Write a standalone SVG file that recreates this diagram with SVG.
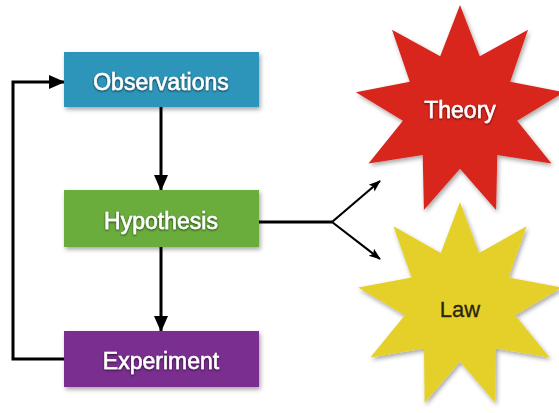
<svg xmlns="http://www.w3.org/2000/svg" width="559" height="413" viewBox="0 0 559 413">
<style>
.lbl{font-family:"Liberation Sans",Arial,sans-serif;font-size:23px;text-anchor:middle;fill:#fff;stroke:#fff;stroke-width:0.5;}
.dark{fill:#2a2410;stroke:#2a2410;stroke-width:0.3;font-size:22px;}
.ln{fill:none;stroke:#000;stroke-width:3;}
.thin{fill:none;stroke:#000;stroke-width:2.2;}
</style>
<defs>
<filter id="sh" x="-10%" y="-10%" width="130%" height="140%">
<feDropShadow dx="1.5" dy="2.5" stdDeviation="2" flood-color="#000" flood-opacity="0.35"/>
</filter>
<filter id="ts" x="-10%" y="-20%" width="120%" height="150%">
<feDropShadow dx="0" dy="1" stdDeviation="0.8" flood-color="#000" flood-opacity="0.7"/>
</filter>
<marker id="ah" markerUnits="userSpaceOnUse" markerWidth="16" markerHeight="16" viewBox="0 0 16 16" refX="15" refY="8" orient="auto">
<path d="M0,1 L16,8 L0,15 Z" fill="#000"/>
</marker>
<marker id="ahs" markerUnits="userSpaceOnUse" markerWidth="12" markerHeight="12" viewBox="0 0 12 12" refX="11" refY="6" orient="auto">
<path d="M0,1.5 L12,6 L0,10.5 L2.5,6 Z" fill="#000"/>
</marker>
</defs>
<rect width="559" height="413" fill="#fff"/>
<g id="connectors">
<path class="ln" d="M161,107 V190" marker-end="url(#ah)"/>
<path class="ln" d="M161,247 V331" marker-end="url(#ah)"/>
<path class="ln" d="M64,359 H13 V82 H64" marker-end="url(#ah)"/>
<path class="ln" d="M259,222 H332"/>
<path class="thin" d="M332,222 L380,181" marker-end="url(#ahs)"/>
<path class="thin" d="M332,222 L380,259" marker-end="url(#ahs)"/>
</g>
<g id="observations">
<rect x="64" y="52" width="195" height="55" fill="#2f95ba" filter="url(#sh)"/>
<text class="lbl" x="161" y="90" filter="url(#ts)">Observations</text>
</g>
<g id="hypothesis">
<rect x="64" y="190" width="195" height="57" fill="#6aad3c" filter="url(#sh)"/>
<text class="lbl" x="161" y="229" filter="url(#ts)">Hypothesis</text>
</g>
<g id="experiment">
<rect x="64" y="331" width="195" height="56" fill="#7a2d8f" filter="url(#sh)"/>
<text class="lbl" x="161" y="369" filter="url(#ts)">Experiment</text>
</g>
<g id="theory">
<polygon fill="#d9261f" filter="url(#sh)" points="460,5 479.8,56.2 528,29.7 510.2,81.7 564.1,92.3 517.1,120.8 551.5,163.6 497.3,155.1 496.1,210.1 460,168.7 423.9,210.1 422.7,155.1 368.5,163.6 402.9,120.8 355.9,92.3 409.8,81.7 392,29.7 440.2,56.2"/>
<text class="lbl" x="460" y="118" filter="url(#ts)">Theory</text>
</g>
<g id="law">
<polygon fill="#e5d02c" filter="url(#sh)" points="460,202 479.2,253 526.6,226.2 508.5,277.6 562,287.6 515.2,315.3 549.7,357.4 496,348.5 495.4,403 460,361.6 424.6,403 424,348.5 370.3,357.4 404.8,315.3 358,287.6 411.5,277.6 393.4,226.2 440.8,253"/>
<text class="lbl dark" x="460" y="317">Law</text>
</g>
</svg>
